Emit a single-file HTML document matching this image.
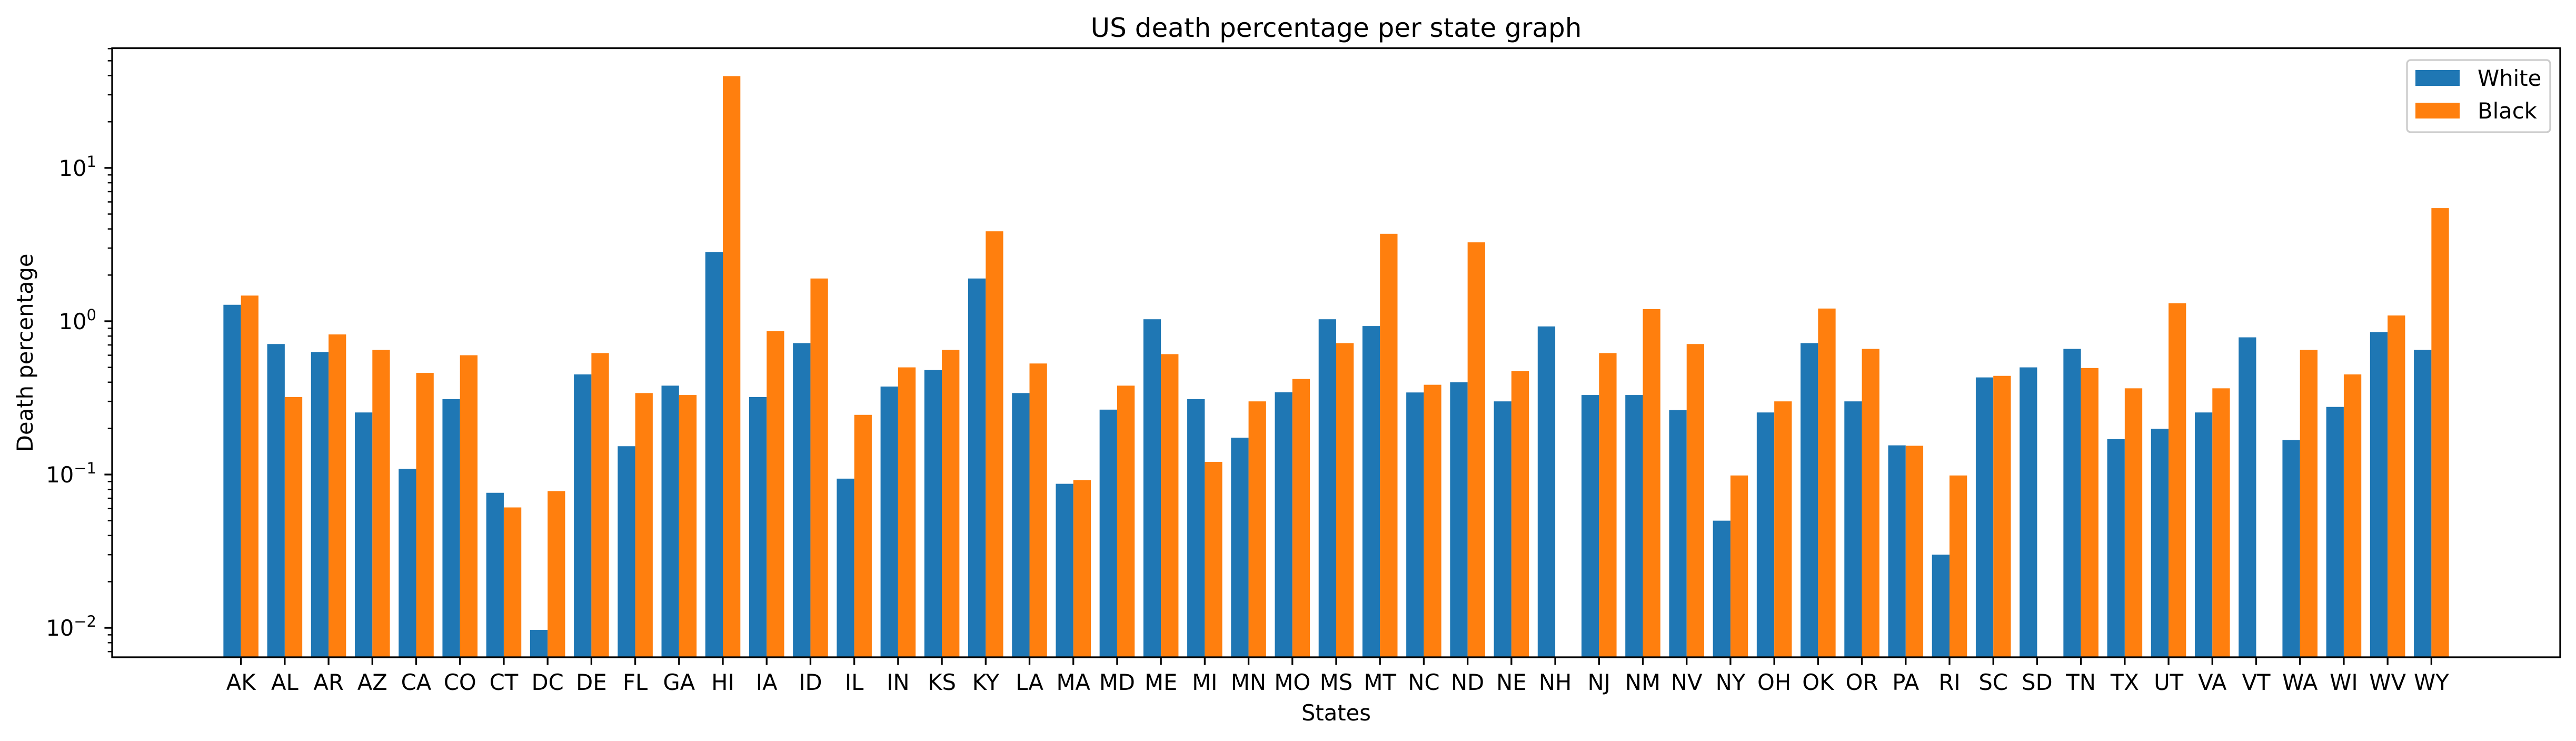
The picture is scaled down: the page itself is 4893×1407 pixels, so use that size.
<!DOCTYPE html>
<html><head><meta charset="utf-8"><style>
html,body{margin:0;padding:0;background:#fff}
svg{display:block}
text{font-family:"DejaVu Sans","Liberation Sans",sans-serif;fill:#000}
</style></head><body>
<svg id="chart" width="4893" height="1407" viewBox="0 0 4893 1407" xmlns="http://www.w3.org/2000/svg">
<rect width="4893" height="1407" fill="#fff"/>
<g id="bars"></g>
<g id="axes"></g>
</svg>
<script>
const categories = ["AK","AL","AR","AZ","CA","CO","CT","DC","DE","FL","GA","HI","IA","ID","IL","IN","KS","KY","LA","MA","MD","ME","MI","MN","MO","MS","MT","NC","ND","NE","NH","NJ","NM","NV","NY","OH","OK","OR","PA","RI","SC","SD","TN","TX","UT","VA","VT","WA","WI","WV","WY"];
const whiteValues = [1.28,0.71,0.63,0.254,0.109,0.31,0.076,0.0097,0.45,0.153,0.38,2.82,0.32,0.72,0.094,0.375,0.48,1.90,0.34,0.087,0.265,1.03,0.31,0.174,0.344,1.03,0.93,0.343,0.40,0.30,0.925,0.33,0.33,0.263,0.050,0.254,0.72,0.30,0.155,0.030,0.43,0.50,0.66,0.170,0.199,0.254,0.785,0.168,0.276,0.85,0.65];
const blackValues = [1.47,0.32,0.82,0.65,0.46,0.60,0.061,0.078,0.62,0.34,0.33,39.7,0.86,1.90,0.245,0.50,0.65,3.86,0.53,0.092,0.38,0.61,0.121,0.30,0.42,0.72,3.72,0.385,3.27,0.474,0,0.62,1.20,0.71,0.0986,0.30,1.21,0.66,0.154,0.0986,0.44,0,0.495,0.365,1.31,0.365,0,0.65,0.45,1.09,5.47];
const yTickExponents = [-2,-1,0,1];
const seriesNames = ["White","Black"];

const NS="http://www.w3.org/2000/svg";
const L=213,R=4863,T=91.5,B=1248;
const logMin=-2.192,logMax=1.781;
const xMin=-2.94,xMax=categories.length-1+2.94;
const colors=["#1f77b4","#ff7f0e"];
function xs(i){return L+(i-xMin)/(xMax-xMin)*(R-L);}
function ys(v){return B-(Math.log10(v)-logMin)/(logMax-logMin)*(B-T);}
function mk(tag,attrs,parent){const e=document.createElementNS(NS,tag);for(const k in attrs)e.setAttribute(k,attrs[k]);parent.appendChild(e);return e;}
const bars=document.getElementById('bars'),axes=document.getElementById('axes');
const bw=0.4*(xs(1)-xs(0));
[whiteValues,blackValues].forEach((vals,s)=>{
  vals.forEach((v,i)=>{
    if(!(v>0))return;
    const cx=xs(i);
    const x=s===0?cx-bw:cx;
    const y=ys(v);
    const r=mk('rect',{x:x,y:y,width:bw,height:B-y,fill:colors[s]},bars);
    
    
  });
});
// frame
const fr=mk('rect',{x:L,y:T,width:R-L,height:B-T,fill:'none',stroke:'#000','stroke-width':3.3},axes);


// x ticks
categories.forEach((c,i)=>{
  const x=xs(i);
  mk('line',{x1:x,x2:x,y1:B,y2:B+14.6,stroke:'#000','stroke-width':3.3},axes);
  const t=mk('text',{x:x,y:1310,'font-size':41.7,'text-anchor':'middle'},axes);
  t.textContent=c;
  
  
});
// y ticks
for(let e=-3;e<=2;e++){
  for(let m=1;m<=9;m++){
    const v=m*Math.pow(10,e);const lg=Math.log10(v);
    if(lg<logMin||lg>logMax)continue;
    const y=ys(v);
    mk('line',{x1:L,x2:L-(m===1?14.6:8.3),y1:y,y2:y,stroke:'#000','stroke-width':m===1?3.3:2.5},axes);
  }
}
yTickExponents.forEach(e=>{
  const y=ys(Math.pow(10,e));
  const t=mk('text',{x:183,y:y+15,'font-size':41.7,'text-anchor':'end'},axes);
  
  
  const a=document.createElementNS(NS,'tspan');a.textContent='10';t.appendChild(a);
  const b=document.createElementNS(NS,'tspan');b.setAttribute('dy','-17');b.setAttribute('font-size','29');
  b.textContent=(e<0?'\u2212':'')+Math.abs(e);t.appendChild(b);
});
// labels
let t=mk('text',{x:(L+R)/2,y:70,'font-size':50,'text-anchor':'middle'},axes);t.textContent='US death percentage per state graph';


t=mk('text',{x:(L+R)/2,y:1368,'font-size':41.7,'text-anchor':'middle'},axes);t.textContent='States';


t=mk('text',{x:0,y:0,'font-size':41.7,'text-anchor':'middle',transform:'translate(62,'+((T+B)/2)+') rotate(-90)'},axes);t.textContent='Death percentage';


// legend
const lg=mk('g',{},axes);


mk('rect',{x:4572,y:114,width:272,height:137,rx:7,fill:'#fff','fill-opacity':0.8,stroke:'#cccccc','stroke-width':3.3},lg);
seriesNames.forEach((n,s)=>{
  const y=133+s*62;
  const p=mk('rect',{x:4588,y:y,width:84,height:30,fill:colors[s]},lg);
  
  
  const tx=mk('text',{x:4706,y:y+30,'font-size':41.7},lg);tx.textContent=n;
  
  
});
</script>
</body></html>
